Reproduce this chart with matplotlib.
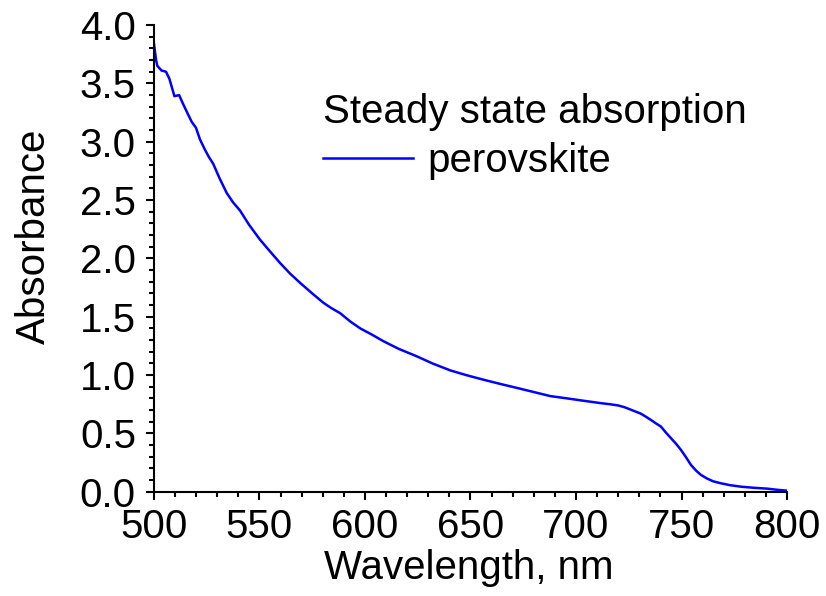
import matplotlib.pyplot as plt
from matplotlib.ticker import MultipleLocator

plt.rcParams['font.family'] = ['Liberation Sans', 'DejaVu Sans']

# steady state absorption spectrum of the perovskite film
wavelength = [500.0, 501.0, 501.6, 503.6, 505.7, 507.3, 509.7, 511.9, 513.9, 516.0,
              517.9, 519.9, 521.8, 524.2, 526.0, 528.1, 531.0, 534.5, 537.5, 540.8,
              545.0, 550.3, 555.0, 559.8, 564.5, 569.3, 575.0, 580.3, 584.0, 588.3,
              593.0, 597.8, 603.0, 608.8, 616.0, 624.7, 632.0, 640.5, 648.0, 656.3,
              664.0, 672.1, 680.0, 687.9, 696.0, 703.7, 711.7, 716.4, 720.0, 723.0,
              726.5, 730.7, 733.0, 736.0, 738.0, 740.2, 742.5, 745.0, 747.5, 749.7,
              752.0, 754.5, 757.0, 759.2, 762.0, 765.0, 768.7, 773.0, 778.2, 784.0,
              790.8, 795.0, 800.0]
absorbance = [3.84, 3.70, 3.65, 3.61, 3.60, 3.54, 3.39, 3.40, 3.32, 3.24,
               3.17, 3.12, 3.02, 2.93, 2.87, 2.81, 2.69, 2.56, 2.48, 2.41,
               2.29, 2.16, 2.06, 1.96, 1.87, 1.79, 1.70, 1.62, 1.575, 1.53,
               1.46, 1.40, 1.35, 1.29, 1.225, 1.16, 1.10, 1.04, 1.00, 0.96,
               0.925, 0.89, 0.855, 0.82, 0.80, 0.78, 0.76, 0.75, 0.74, 0.725,
               0.70, 0.67, 0.645, 0.61, 0.585, 0.56, 0.51, 0.46, 0.41, 0.36,
               0.30, 0.23, 0.18, 0.145, 0.115, 0.09, 0.073, 0.057, 0.044, 0.035,
               0.027, 0.018, 0.01]

FS = 29

fig = plt.figure(figsize=(8.26, 5.96), dpi=100)
ax = fig.add_axes([0.1864, 0.1748, 0.7664, 0.7832])

ax.plot(wavelength, absorbance, color='#0000ff', lw=1.8, label='perovskite')

ax.set_xlim(500, 800)
ax.set_ylim(0, 4.0)
ax.xaxis.set_major_locator(MultipleLocator(50))
ax.xaxis.set_minor_locator(MultipleLocator(10))
ax.yaxis.set_major_locator(MultipleLocator(0.5))
ax.yaxis.set_minor_locator(MultipleLocator(0.1))
ax.yaxis.set_major_formatter(plt.FormatStrFormatter('%.1f'))

for side in ('top', 'right'):
    ax.spines[side].set_visible(False)
for side in ('left', 'bottom'):
    ax.spines[side].set_linewidth(1.5)

ax.tick_params(which='major', direction='out', length=6, width=1.5, labelsize=FS)
ax.tick_params(which='minor', direction='out', length=3.5, width=1.5)
ax.tick_params(axis='x', which='major', pad=6)
ax.tick_params(axis='y', which='major', pad=7)

ax.set_xlabel('Wavelength, nm', fontsize=FS)
ax.set_ylabel('Absorbance', fontsize=FS)
ax.xaxis.set_label_coords(0.4976, -0.123)
ax.yaxis.set_label_coords(-0.16, 0.547)

leg = ax.legend(title='Steady state absorption', loc='upper left',
                bbox_to_anchor=(0.391, 0.844), bbox_transform=fig.transFigure,
                frameon=False, fontsize=FS, title_fontsize=FS,
                handlelength=2.23, handletextpad=0.37, borderpad=0,
                borderaxespad=0, labelspacing=0.28, alignment='left')

fig.savefig('out.png', dpi=100)
